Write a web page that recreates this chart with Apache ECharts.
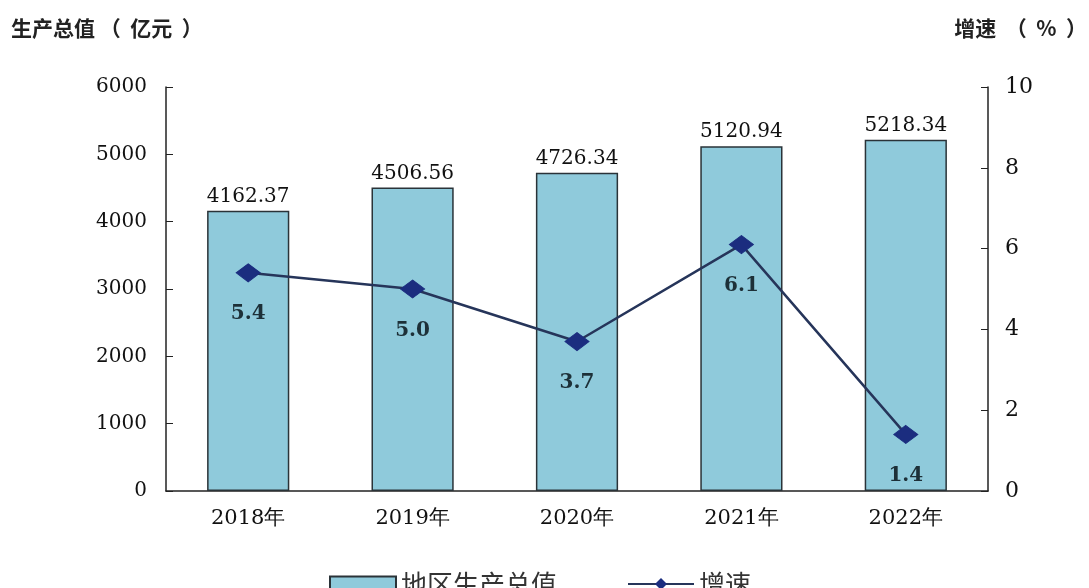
<!DOCTYPE html>
<html><head><meta charset="utf-8">
<script src="https://cdn.jsdelivr.net/npm/echarts@6/dist/echarts.min.js"></script>
<style>html,body{margin:0;padding:0;background:#fff}#c{width:1089px;height:588px}</style>
</head><body><div id="c"></div>
<script>
var categories = ['2018年','2019年','2020年','2021年','2022年'];
var gdpValues = [4162.37, 4506.56, 4726.34, 5120.94, 5218.34];
var growthValues = [5.4, 5.0, 3.7, 6.1, 1.4];
var leftTicks = [0, 6000, 1000];
var rightTicks = [0, 10, 2];

var serif = '"DejaVu Serif", "Liberation Serif", serif';
var cjk = '"Noto Sans CJK SC", sans-serif';
var chart = echarts.init(document.getElementById('c'));
chart.setOption({
  animation: false,
  backgroundColor: '#fff',
  grid: {left: 166, right: 101, top: 87, bottom: 97},
  graphic: [
    {type: 'text', left: 11, top: 18, style: {text: '生产总值 （  亿元  ）', font: 'bold 21px ' + cjk, fill: '#222'}},
    {type: 'text', right: 2, top: 18, style: {text: '增速  （  %  ）', font: 'bold 21px ' + cjk, fill: '#222'}}
  ],
  legend: {
    top: 566, left: 324,
    itemGap: 70, itemWidth: 66, itemHeight: 15,
    textStyle: {fontFamily: cjk, fontSize: 26, color: '#333'},
    data: [{name: '地区生产总值', icon: 'rect'}, '增速']
  },
  xAxis: {
    type: 'category', data: categories,
    axisLine: {lineStyle: {color: '#222', width: 1.5}},
    axisTick: {inside: true, length: 6, lineStyle: {color: '#222'}},
    axisLabel: {fontFamily: serif, fontSize: 21, color: '#111', margin: 17}
  },
  yAxis: [
    {type: 'value', min: leftTicks[0], max: leftTicks[1], interval: leftTicks[2],
     splitLine: {show: false},
     axisLine: {show: true, lineStyle: {color: '#222', width: 1.5}},
     axisTick: {show: true, inside: true, length: 7, lineStyle: {color: '#222'}},
     axisLabel: {fontFamily: serif, fontSize: 20, color: '#111', margin: 19,
       formatter: function (v) { return String(v); }}},
    {type: 'value', min: rightTicks[0], max: rightTicks[1], interval: rightTicks[2],
     position: 'right', splitLine: {show: false},
     axisLine: {show: true, lineStyle: {color: '#222', width: 1.5}},
     axisTick: {show: true, inside: true, length: 7, lineStyle: {color: '#222'}},
     axisLabel: {fontFamily: serif, fontSize: 22, color: '#111', margin: 17}}
  ],
  series: [
    {name: '地区生产总值', type: 'bar', data: gdpValues, barWidth: '50%',
     itemStyle: {color: '#8FCADB', borderColor: '#2a3338', borderWidth: 1.5},
     label: {show: true, position: 'top', distance: 4, fontFamily: serif, fontSize: 20, color: '#111',
       formatter: function (p) { return p.value.toFixed(2); }}},
    {name: '增速', type: 'line', yAxisIndex: 1, data: growthValues,
     symbol: 'diamond', symbolSize: [24, 18],
     lineStyle: {color: '#26355a', width: 2.5},
     itemStyle: {color: '#1b2d7f', borderColor: '#1b2d7f'},
     label: {show: true, position: 'bottom', distance: 22, fontFamily: serif, fontWeight: 'bold', fontSize: 20, color: '#1d3038',
       formatter: function (p) { return p.value.toFixed(1); }}}
  ]
});
</script></body></html>
